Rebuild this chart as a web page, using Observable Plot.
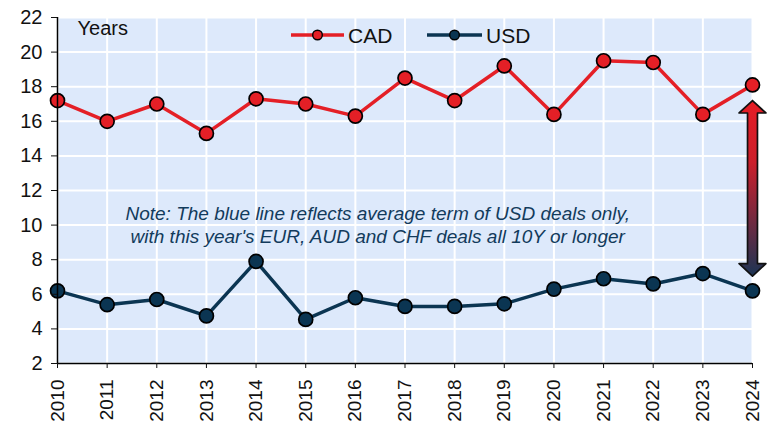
<!DOCTYPE html>
<html><head><meta charset="utf-8">
<script src="https://cdn.jsdelivr.net/npm/d3@7"></script>
<script src="https://cdn.jsdelivr.net/npm/@observablehq/plot@0.6"></script>
<style>body{margin:0;background:#fff;} #chart svg{display:block;}</style>
</head><body><div id="chart"></div>
<script>
const years = [2010,2011,2012,2013,2014,2015,2016,2017,2018,2019,2020,2021,2022,2023,2024];
const cad = [17.2,16.0,17.0,15.3,17.3,17.0,16.3,18.5,17.2,19.2,16.4,19.5,19.4,16.4,18.1];
const usd = [6.2,5.4,5.7,4.75,7.9,4.55,5.8,5.3,5.3,5.45,6.3,6.9,6.6,7.2,6.2];
const seriesNames = ["CAD","USD"];
const seriesColors = ["#e41f26","#0b3552"];
const yTicks = [2,4,6,8,10,12,14,16,18,20,22];
const unitLabel = "Years";
const noteLines = ["Note: The blue line reflects average term of USD deals only,", "with this year's EUR, AUD and CHF deals all 10Y or longer"];
const notePos = [{year: 2016.45, value: 10.07}];
const arrowSpan = [{year: 2024, top: 17.2, bottom: 7.05}];

const data = years.flatMap((y, i) => [
  {year: y, value: cad[i], series: seriesNames[0]},
  {year: y, value: usd[i], series: seriesNames[1]}
]);

// arrow outline (shape sizes in data units around the span)
const a = arrowSpan[0];
const hh = 0.27, sh = 0.1, hl = 0.72;
const arrowPts = [
  [a.year, a.top], [a.year + hh, a.top - hl], [a.year + sh, a.top - hl],
  [a.year + sh, a.bottom + hl], [a.year + hh, a.bottom + hl], [a.year, a.bottom],
  [a.year - hh, a.bottom + hl], [a.year - sh, a.bottom + hl], [a.year - sh, a.top - hl],
  [a.year - hh, a.top - hl], [a.year, a.top]
];

const colorOf = s => seriesColors[seriesNames.indexOf(s)];

const plot = Plot.plot({
  width: 774,
  height: 423,
  marginLeft: 57,
  marginRight: 22,
  marginTop: 17,
  marginBottom: 60,
  style: {fontFamily: "'Liberation Sans', Arial, sans-serif", fontSize: "20px", color: "#111", background: "#fff"},
  x: {type: "linear", domain: [2010, 2024]},
  y: {domain: [2, 22]},
  marks: [
    Plot.frame({fill: "#dde9fb", stroke: null}),
    Plot.gridX({ticks: years, stroke: "#fff", strokeOpacity: 1, strokeWidth: 2}),
    Plot.gridY({ticks: yTicks, stroke: "#fff", strokeOpacity: 1, strokeWidth: 2}),
    Plot.text(notePos, {x: "year", y: "value", text: () => noteLines.join("\n"), fontStyle: "italic", fontSize: 19, fill: "#123b5c", lineHeight: 1.22, textAnchor: "middle"}),
    Plot.line(data, {x: "year", y: "value", z: "series", stroke: d => colorOf(d.series), strokeWidth: 3.5}),
    Plot.dot(data, {x: "year", y: "value", r: 7, fill: d => colorOf(d.series), stroke: "#000", strokeWidth: 1.7}),
    Plot.line(arrowPts, {x: d => d[0], y: d => d[1], fill: "url(#arrowGrad)", stroke: "#111", strokeWidth: 1.7, curve: "linear"}),
    Plot.ruleX([2010], {stroke: "#000", strokeWidth: 1.5}),
    Plot.ruleY([2], {stroke: "#000", strokeWidth: 1.5}),
    Plot.axisY({ticks: yTicks, tickSize: 6, tickPadding: 9, fontSize: 20, label: null}),
    Plot.axisX({ticks: years, tickFormat: d => String(d), tickRotate: -90, tickSize: 5, tickPadding: 11, fontSize: 19, label: null}),
    Plot.text([unitLabel], {frameAnchor: "top-left", dx: 20, dy: 11, lineAnchor: "middle", textAnchor: "start", fontSize: 20, fill: "#111"})
  ]
});

const svg = d3.select(plot);
const defs = svg.insert("defs", ":first-child");
const grad = defs.append("linearGradient").attr("id", "arrowGrad").attr("x1", 0).attr("y1", 0).attr("x2", 0).attr("y2", 1);
grad.append("stop").attr("offset", "0%").attr("stop-color", "#e51c24");
grad.append("stop").attr("offset", "35%").attr("stop-color", "#cc1f2b");
grad.append("stop").attr("offset", "100%").attr("stop-color", "#1c3454");

// legend
const leg = svg.append("g").attr("text-anchor", "start");
const legendItems = [{name: seriesNames[0], x0: 291, x1: 344}, {name: seriesNames[1], x0: 427, x1: 482}];
legendItems.forEach(it => {
  leg.append("line").attr("x1", it.x0).attr("x2", it.x1).attr("y1", 35).attr("y2", 35)
    .attr("stroke", colorOf(it.name)).attr("stroke-width", 3.5);
  leg.append("circle").attr("cx", (it.x0 + it.x1) / 2).attr("cy", 35).attr("r", 4.8)
    .attr("fill", colorOf(it.name)).attr("stroke", "#000").attr("stroke-width", 1.4);
  leg.append("text").attr("x", it.x1 + 4).attr("y", 35).attr("dy", "0.36em")
    .attr("text-anchor", "start").style("font-size", "21px").attr("fill", "#111").text(it.name);
});

document.getElementById("chart").appendChild(plot);
</script>
</body></html>
